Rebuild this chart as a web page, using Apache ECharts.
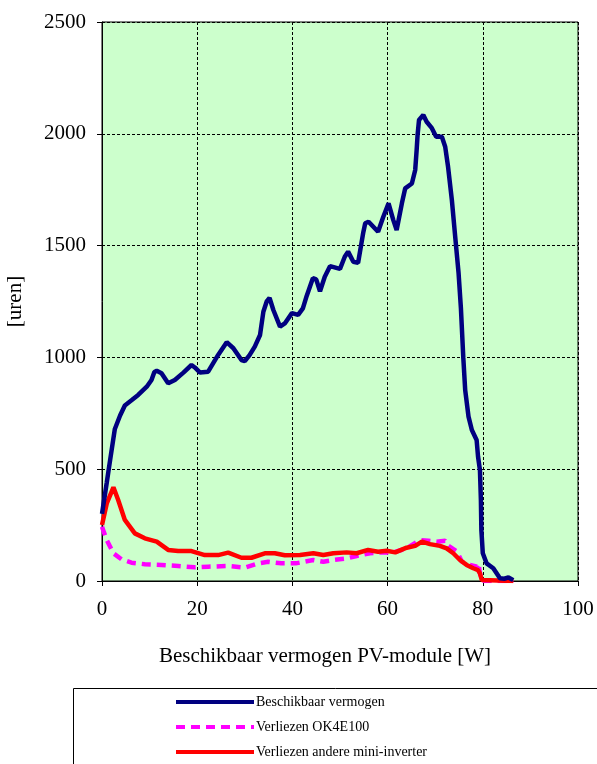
<!DOCTYPE html>
<html>
<head>
<meta charset="utf-8">
<script src="https://cdn.jsdelivr.net/npm/echarts@6/dist/echarts.min.js"></script>
<style>html,body{margin:0;padding:0;background:#fff;}#c{width:597px;height:764px;}</style>
</head>
<body>
<div id="c"></div>
<script>
// Data
const seriesNames = ['Beschikbaar vermogen', 'Verliezen OK4E100', 'Verliezen andere mini-inverter'];
const xTicks = [0, 20, 40, 60, 80, 100];
const yTicks = [0, 500, 1000, 1500, 2000, 2500];

const availX = [0, 1.0, 1.7, 2.7, 3.8, 4.8, 6.2, 7.6, 9.4, 10.4, 11.0, 11.5, 12.5, 13.9, 15.3, 17.1, 18.8, 19.5, 20.6, 22.3, 24.4, 26.2, 27.6, 29.3, 30.0, 31.0, 32.1, 33.2, 33.9, 34.6, 35.2, 36.0, 37.4, 38.4, 39.9, 41.2, 42.2, 43.0, 44.3, 45.0, 45.8, 46.8, 47.9, 50.0, 51.0, 51.7, 52.8, 53.8, 54.9, 55.3, 56.0, 58.0, 59.1, 60.2, 61.2, 61.9, 63.0, 63.7, 65.1, 65.8, 66.1, 66.3, 66.6, 67.5, 68.2, 69.3, 70.2, 71.4, 72.1, 72.7, 73.5, 74.2, 74.9, 75.4, 75.9, 76.3, 77.0, 77.7, 78.7, 79.0, 79.4, 79.6, 79.7, 80.0, 80.8, 82.2, 83.6, 84.5, 85.4, 86.4];
const availY = [300, 440, 540, 680, 740, 785, 808, 832, 869, 899, 935, 940, 929, 884, 899, 932, 966, 955, 932, 936, 1011, 1068, 1041, 988, 983, 1010, 1048, 1100, 1204, 1250, 1266, 1212, 1138, 1152, 1198, 1190, 1219, 1275, 1354, 1349, 1296, 1361, 1408, 1396, 1450, 1473, 1428, 1423, 1560, 1600, 1607, 1562, 1629, 1689, 1614, 1570, 1689, 1756, 1778, 1838, 1927, 1995, 2062, 2084, 2054, 2025, 1987, 1987, 1942, 1853, 1704, 1540, 1380, 1220, 1000, 854, 735, 675, 631, 556, 496, 362, 228, 124, 79, 57, 12, 10, 16, 4];

const ok4X = [0, 1.0, 2.4, 4.1, 6.2, 9.0, 12.5, 16.0, 19.5, 22.3, 26.5, 30.0, 32.8, 34.9, 37.7, 40.7, 44.4, 46.5, 48.6, 51.4, 53.5, 56.3, 58.4, 61.2, 64.0, 66.8, 68.6, 70.3, 72.1, 72.8, 74.6, 75.6, 77.3, 78.8, 79.1, 79.4, 79.8, 86.4];
const ok4Y = [243, 183, 124, 97, 82, 75, 72, 67, 61, 64, 67, 60, 79, 86, 79, 79, 94, 86, 94, 101, 112, 124, 127, 128, 146, 183, 180, 176, 180, 157, 131, 86, 72, 64, 79, 34, 0, 0];

const otherX = [0, 1.0, 2.4, 3.4, 4.8, 6.9, 9.0, 11.5, 13.9, 16.0, 18.8, 21.6, 24.4, 26.5, 29.3, 31.4, 34.2, 36.3, 38.4, 41.6, 44.4, 46.5, 48.6, 51.4, 53.5, 55.9, 58.0, 59.8, 61.6, 64.0, 65.8, 67.2, 68.9, 71.0, 72.4, 73.8, 75.2, 76.6, 78.0, 79.0, 79.4, 79.8, 86.4];
const otherY = [250, 347, 419, 362, 273, 213, 191, 176, 139, 134, 134, 116, 116, 127, 104, 104, 124, 124, 115, 116, 124, 116, 124, 128, 124, 139, 131, 135, 128, 149, 157, 176, 165, 157, 146, 124, 94, 72, 57, 49, 34, 4, 0];

const pairs = (xs, ys) => xs.map((x, i) => [x, ys[i]]);

const chart = echarts.init(document.getElementById('c'), null, {renderer: 'canvas'});
const serif = '"Liberation Serif", "Times New Roman", serif';

chart.setOption({
  animation: false,
  backgroundColor: '#ffffff',
  textStyle: {fontFamily: serif, color: '#000'},
  grid: {
    left: 102, right: 19, top: 22, bottom: 183, outerBoundsMode: 'none', containLabel: false,
    show: true, backgroundColor: '#ccffcc', borderColor: '#000', borderWidth: 1
  },
  xAxis: {
    type: 'value', min: xTicks[0], max: xTicks[xTicks.length - 1], interval: 20,
    name: 'Beschikbaar vermogen PV-module [W]', nameLocation: 'middle', nameGap: 65,
    nameTextStyle: {fontFamily: serif, fontSize: 21, color: '#000', padding: [0, 30, 0, 0]},
    axisLine: {show: true, lineStyle: {color: '#000', width: 1}},
    axisTick: {show: true, length: 5, lineStyle: {color: '#000'}},
    axisLabel: {fontFamily: serif, fontSize: 21, color: '#000', margin: 18, formatter: v => String(v)},
    splitLine: {show: true, lineStyle: {color: '#000', type: [3, 2], width: 1}}
  },
  yAxis: {
    type: 'value', min: yTicks[0], max: yTicks[yTicks.length - 1], interval: 500,
    name: '[uren]', nameLocation: 'middle', nameGap: 76, nameRotate: 90,
    nameTextStyle: {fontFamily: serif, fontSize: 21, color: '#000'},
    axisLine: {show: true, lineStyle: {color: '#000', width: 1}},
    axisTick: {show: true, length: 5, lineStyle: {color: '#000'}},
    axisLabel: {fontFamily: serif, fontSize: 21, color: '#000', margin: 16, formatter: v => String(v)},
    splitLine: {show: true, lineStyle: {color: '#000', type: [3, 2], width: 1}}
  },
  legend: {
    orient: 'vertical', left: 174, top: 695, padding: 0, itemWidth: 78, itemHeight: 14, itemGap: 11,
    data: seriesNames,
    itemStyle: {opacity: 0},
    lineStyle: {width: 4},
    textStyle: {fontFamily: serif, fontSize: 14, color: '#000', padding: [0, 0, 0, -3]}
  },
  graphic: [{
    type: 'rect', left: 73, top: 688, z: -1,
    shape: {width: 540, height: 100},
    style: {fill: '#fff', stroke: '#000', lineWidth: 1}
  }],
  series: [
    {
      name: seriesNames[0], type: 'line', data: pairs(availX, availY), symbol: 'none',
      lineStyle: {color: '#000080', width: 4.5}, itemStyle: {color: '#000080'}, z: 3
    },
    {
      name: seriesNames[1], type: 'line', data: pairs(ok4X, ok4Y), symbol: 'none',
      lineStyle: {color: '#ff00ff', width: 4.5, type: [9, 6]}, itemStyle: {color: '#ff00ff'}, z: 2
    },
    {
      name: seriesNames[2], type: 'line', data: pairs(otherX, otherY), symbol: 'none',
      lineStyle: {color: '#ff0000', width: 4.5}, itemStyle: {color: '#ff0000'}, z: 2
    }
  ]
});
</script>
</body>
</html>
